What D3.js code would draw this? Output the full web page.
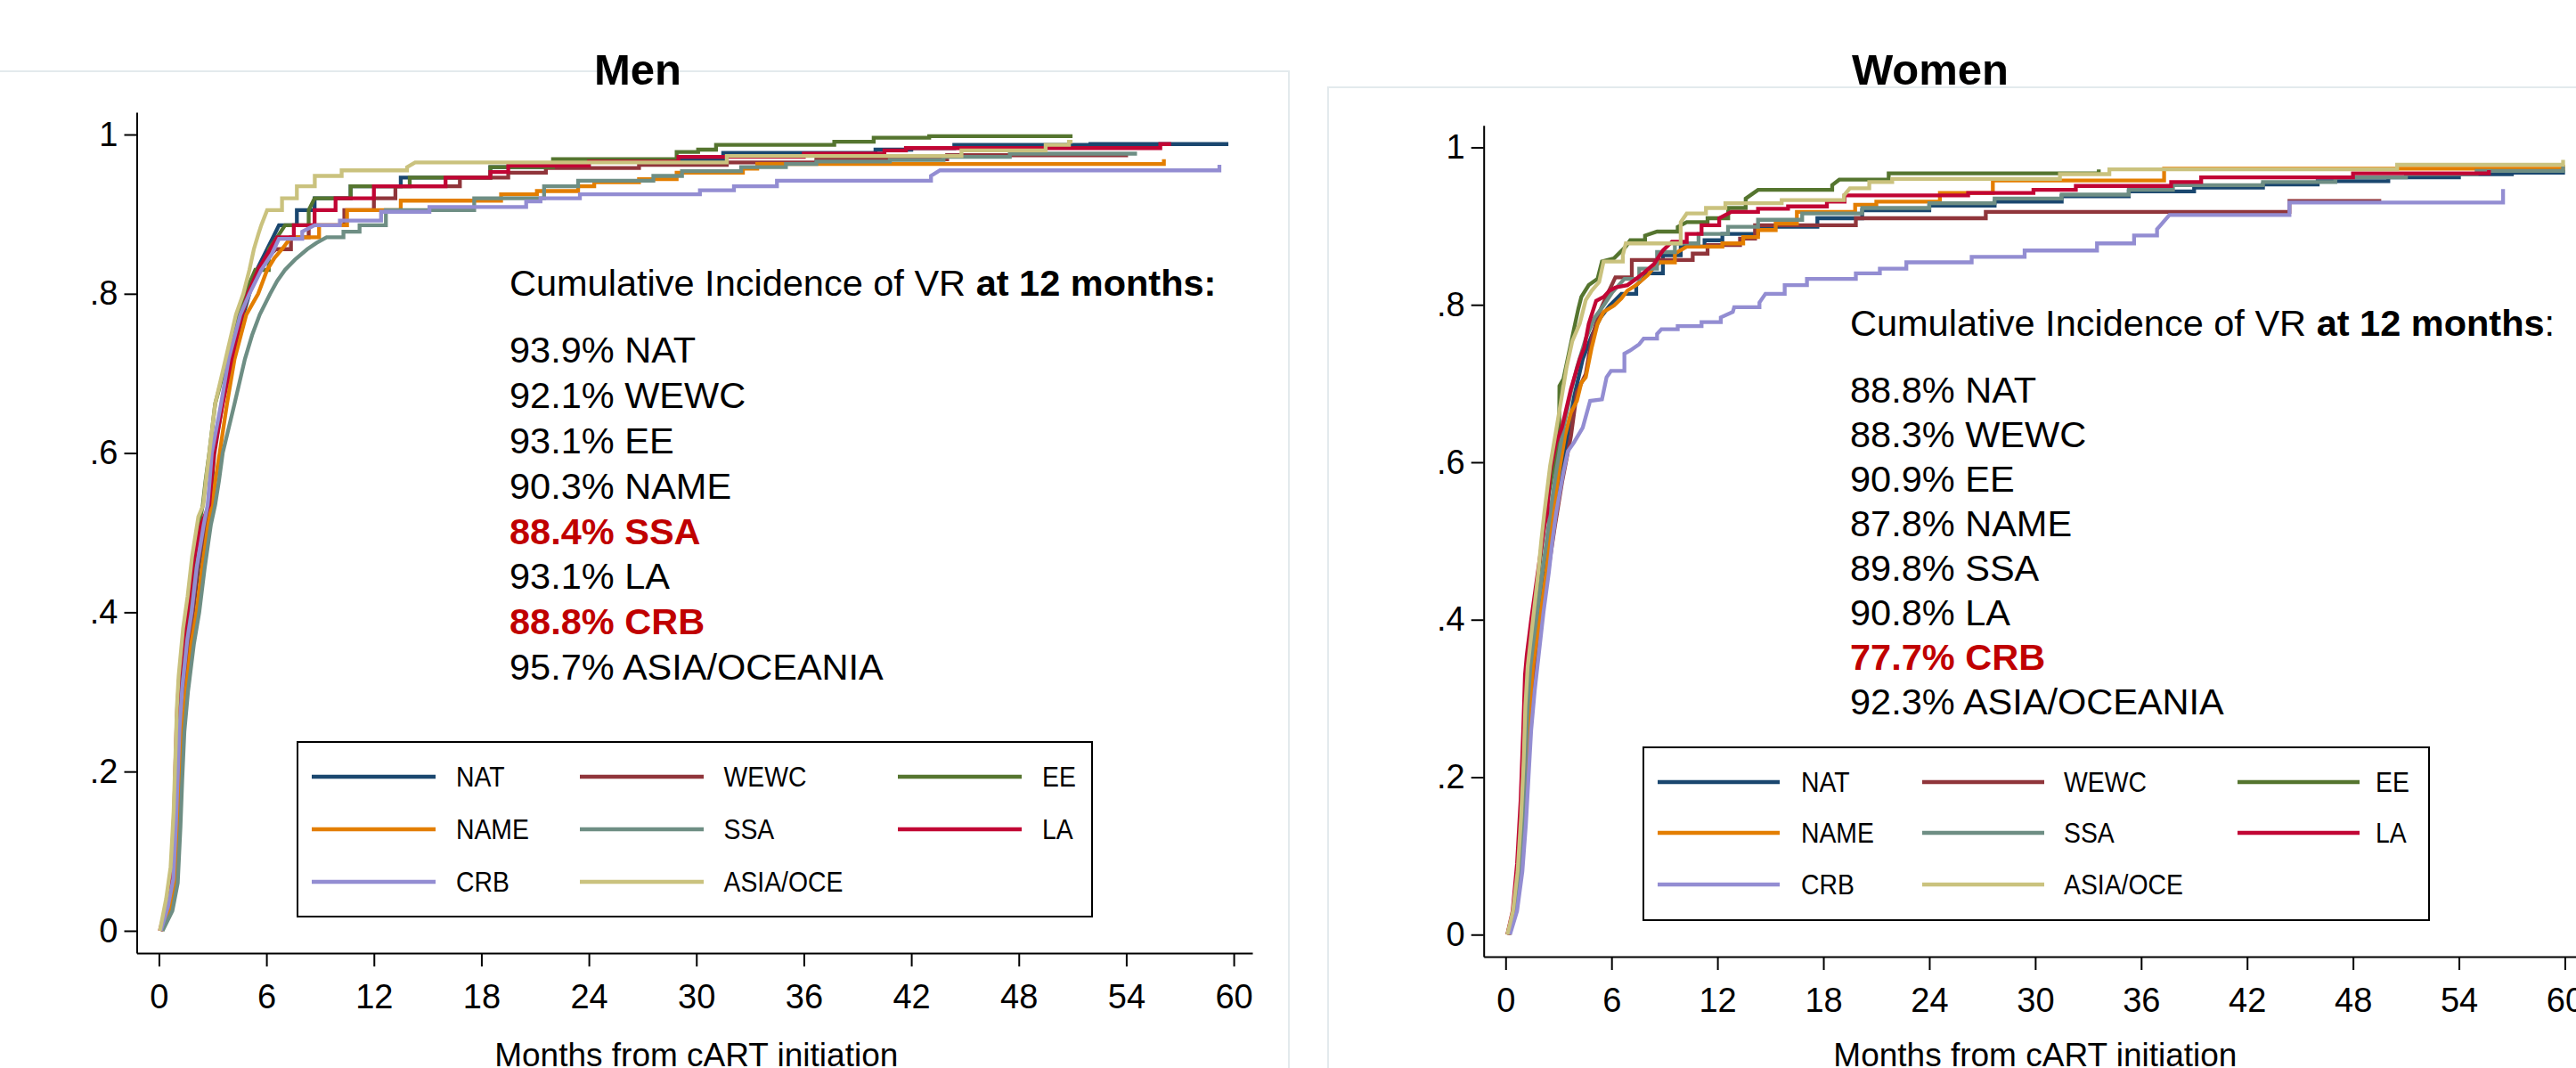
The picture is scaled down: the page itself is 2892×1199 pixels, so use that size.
<!DOCTYPE html>
<html>
<head>
<meta charset="utf-8">
<script src="https://cdn.jsdelivr.net/npm/d3@7"></script>
<style>
  body { margin: 0; background: #fff; }
  svg { display: block; font-family: "Liberation Sans", Arial, Helvetica, sans-serif; }
</style>
</head>
<body>
<svg id="chart" width="2892" height="1199"></svg>
<script>
// categories and ticks
const groups = ["NAT", "WEWC", "EE", "NAME", "SSA", "LA", "CRB", "ASIA/OCE"];
const monthTicks = [0, 6, 12, 18, 24, 30, 36, 42, 48, 54, 60];
const probTicks = [0, 0.2, 0.4, 0.6, 0.8, 1];

// annotation texts
const menNotes = ["93.9% NAT", "92.1% WEWC", "93.1% EE", "90.3% NAME", "88.4% SSA", "93.1% LA", "88.8% CRB", "95.7% ASIA/OCEANIA"];
const menHighlight = [4, 6];
const womenNotes = ["88.8% NAT", "88.3% WEWC", "90.9% EE", "87.8% NAME", "89.8% SSA", "90.8% LA", "77.7% CRB", "92.3% ASIA/OCEANIA"];
const womenHighlight = [6];

// cumulative incidence, [month, value] - men
const menNAT = [[0.1,0],[0.55,0.025],[0.85,0.06],[1.0,0.13],[1.1,0.19],[1.2,0.25],[1.35,0.3],[1.65,0.36],[1.9,0.4],[2.2,0.455],[2.6,0.51],[2.89,0.535],[2.97,0.565],[3.05,0.6],[3.5,0.662],[4.02,0.718],[4.71,0.774],[5.05,0.8],[5.46,0.83],[6.04,0.856],[6.37,0.871],[6.7,0.886],[7.7,0.905],[8.69,0.92],[10.7,0.935],[13.5,0.946],[18.5,0.959],[24,0.968],[31.5,0.977],[40,0.981],[42,0.983],[44.4,0.987],[52,0.988],[59.7,0.988]];
const menWEWC = [[0.1,0],[0.55,0.025],[0.85,0.06],[1.0,0.13],[1.1,0.19],[1.2,0.25],[1.35,0.3],[1.62,0.36],[1.88,0.4],[2.15,0.455],[2.55,0.51],[2.85,0.535],[2.95,0.565],[3.1,0.6],[3.55,0.662],[4.05,0.718],[4.65,0.774],[5.0,0.8],[5.46,0.83],[6.0,0.845],[6.54,0.856],[7.37,0.871],[8.36,0.886],[10.35,0.905],[12.0,0.92],[13.2,0.935],[16.8,0.946],[19.5,0.952],[21.6,0.958],[26.8,0.962],[31.7,0.965],[36.7,0.969],[44,0.974],[54.1,0.974]];
const menEE = [[0.08,0],[0.5,0.03],[0.75,0.07],[0.9,0.14],[1.0,0.2],[1.08,0.26],[1.22,0.31],[1.5,0.37],[1.72,0.405],[1.95,0.46],[2.3,0.517],[2.45,0.535],[2.6,0.565],[2.81,0.6],[3.14,0.662],[3.8,0.718],[4.39,0.774],[4.8,0.8],[5.38,0.83],[6.13,0.856],[6.6,0.871],[7.04,0.886],[8.36,0.905],[8.69,0.92],[10.7,0.935],[14,0.946],[18.5,0.959],[22,0.969],[28.9,0.978],[30.1,0.981],[31.1,0.987],[37.7,0.991],[39.9,0.996],[43,0.998],[51,0.998]];
const menNAME = [[0.15,0],[0.65,0.025],[0.95,0.06],[1.1,0.13],[1.2,0.19],[1.3,0.25],[1.5,0.3],[1.8,0.36],[2.1,0.4],[2.4,0.455],[2.75,0.51],[2.97,0.535],[3.15,0.565],[3.39,0.6],[3.8,0.662],[4.22,0.718],[4.88,0.774],[5.54,0.8],[6.04,0.83],[6.45,0.845],[6.87,0.856],[7.37,0.871],[8.94,0.886],[10.5,0.905],[13.5,0.917],[19.1,0.925],[21.1,0.929],[23.4,0.935],[24.3,0.94],[26.8,0.944],[28.9,0.952],[32.6,0.957],[33.4,0.963],[56.1,0.969]];
const menSSA = [[0.2,0],[0.75,0.025],[1.05,0.06],[1.2,0.13],[1.3,0.19],[1.42,0.25],[1.62,0.3],[1.95,0.36],[2.25,0.4],[2.55,0.455],[2.9,0.51],[3.14,0.535],[3.35,0.565],[3.56,0.6],[4.22,0.662],[4.8,0.718],[5.2,0.748],[5.63,0.774],[6.21,0.8],[6.6,0.816],[7.04,0.83],[7.6,0.843],[8.28,0.856],[8.8,0.864],[9.36,0.871],[10.3,0.878],[11.2,0.886],[12.67,0.905],[17.6,0.92],[21.5,0.935],[23.4,0.942],[27.6,0.948],[29.2,0.954],[32.5,0.959],[35,0.963],[36.7,0.966],[40.8,0.968],[43.8,0.972],[47.5,0.976],[54.6,0.976]];
const menLA = [[0.05,0],[0.45,0.035],[0.7,0.08],[0.85,0.15],[0.92,0.21],[1.0,0.27],[1.12,0.315],[1.4,0.37],[1.65,0.41],[1.9,0.46],[2.35,0.51],[2.81,0.535],[2.92,0.565],[3.06,0.6],[3.56,0.662],[4.05,0.718],[4.63,0.774],[4.96,0.8],[5.54,0.83],[6.21,0.856],[6.6,0.871],[7.53,0.886],[8.69,0.905],[9.86,0.92],[12,0.935],[16,0.946],[18.5,0.953],[19.5,0.961],[24,0.966],[29,0.972],[36,0.976],[40.5,0.98],[41.7,0.983],[55.9,0.988],[56.5,0.988]];
const menCRB = [[0.1,0],[0.5,0.03],[0.8,0.065],[0.95,0.135],[1.05,0.195],[1.15,0.255],[1.3,0.305],[1.58,0.365],[1.82,0.4],[2.1,0.455],[2.5,0.51],[2.72,0.535],[2.83,0.565],[2.95,0.6],[3.47,0.662],[3.89,0.718],[4.55,0.774],[5.05,0.8],[5.71,0.83],[6.3,0.85],[6.7,0.869],[8.0,0.878],[8.69,0.886],[10.1,0.892],[12.4,0.903],[15.1,0.909],[20.5,0.916],[21.3,0.92],[23.5,0.925],[30.2,0.93],[32.1,0.935],[34.5,0.942],[43.1,0.948],[43.6,0.955],[59.2,0.962]];
const menASIA = [[0.05,0],[0.4,0.04],[0.65,0.08],[0.82,0.15],[0.92,0.22],[1.0,0.28],[1.1,0.32],[1.35,0.38],[1.6,0.42],[1.85,0.47],[2.2,0.52],[2.48,0.535],[2.62,0.565],[2.81,0.6],[3.14,0.662],[3.72,0.718],[4.3,0.774],[4.71,0.8],[5.05,0.83],[5.3,0.856],[5.55,0.875],[5.71,0.886],[6.04,0.905],[6.87,0.92],[7.7,0.935],[8.7,0.948],[10.2,0.955],[13.85,0.959],[14.3,0.965],[31.7,0.973],[44.8,0.98],[49.5,0.987],[50.8,0.991],[51.0,0.991]];

// women
const womenNAT = [[0.15,0],[0.5,0.03],[0.8,0.08],[1.0,0.15],[1.12,0.22],[1.25,0.29],[1.4,0.34],[1.65,0.38],[1.9,0.42],[2.15,0.46],[2.45,0.5],[2.86,0.55],[3.15,0.59],[3.45,0.625],[3.87,0.682],[4.37,0.731],[4.88,0.761],[5.38,0.784],[5.89,0.799],[6.56,0.814],[7.4,0.825],[8.07,0.84],[8.91,0.863],[9.92,0.874],[11.27,0.882],[12.28,0.89],[14.3,0.899],[17.66,0.91],[20.2,0.92],[24,0.926],[27.7,0.931],[31.5,0.938],[35.3,0.944],[39,0.949],[42.9,0.953],[46,0.957],[50,0.962],[54,0.966],[57,0.968],[59.9,0.971]];
const womenWEWC = [[0.2,0],[0.6,0.03],[0.9,0.08],[1.1,0.14],[1.25,0.21],[1.4,0.27],[1.6,0.32],[1.85,0.37],[2.1,0.41],[2.4,0.46],[2.8,0.52],[3.2,0.575],[3.7,0.633],[4.04,0.689],[4.54,0.712],[4.88,0.757],[5.3,0.79],[5.8,0.815],[6.22,0.835],[7.15,0.857],[10.6,0.865],[11.44,0.876],[13.28,0.884],[14.13,0.901],[19.84,0.91],[27.2,0.918],[44.4,0.932],[49.6,0.932]];
const womenEE = [[0.1,0],[0.45,0.03],[0.7,0.08],[0.9,0.15],[1.05,0.22],[1.15,0.29],[1.28,0.34],[1.48,0.38],[1.68,0.42],[1.88,0.46],[2.08,0.5],[2.27,0.535],[2.6,0.58],[3.03,0.625],[3.05,0.697],[3.28,0.706],[3.87,0.769],[4.12,0.795],[4.29,0.81],[4.71,0.825],[5.21,0.833],[5.46,0.855],[6.14,0.859],[6.81,0.874],[7.06,0.882],[7.9,0.888],[8.58,0.893],[9.75,0.899],[10.26,0.905],[11.44,0.91],[12.61,0.923],[13.6,0.935],[14.3,0.946],[18.5,0.952],[18.9,0.959],[21.7,0.967],[33.6,0.972]];
const womenNAME = [[0.2,0],[0.6,0.03],[0.9,0.08],[1.1,0.15],[1.25,0.22],[1.38,0.29],[1.55,0.34],[1.8,0.38],[2.05,0.42],[2.3,0.46],[2.5,0.5],[2.69,0.535],[3.03,0.588],[3.36,0.633],[3.7,0.663],[4.04,0.678],[4.29,0.701],[4.54,0.708],[4.88,0.746],[5.21,0.776],[5.55,0.791],[6.14,0.799],[6.56,0.808],[6.9,0.818],[7.4,0.825],[8.07,0.838],[8.41,0.848],[8.74,0.854],[9.59,0.865],[10.26,0.874],[12.28,0.878],[13.46,0.886],[14.3,0.895],[15.3,0.903],[16.5,0.918],[19.8,0.927],[21,0.931],[24.6,0.942],[27.6,0.958],[37.3,0.973],[59.9,0.978]];
const womenSSA = [[0.15,0],[0.5,0.03],[0.8,0.08],[1.0,0.15],[1.12,0.22],[1.25,0.29],[1.4,0.34],[1.62,0.38],[1.85,0.42],[2.08,0.46],[2.32,0.5],[2.52,0.535],[2.86,0.588],[3.28,0.644],[3.7,0.689],[4.04,0.72],[4.54,0.757],[5.05,0.784],[5.55,0.799],[6.05,0.816],[6.73,0.833],[7.57,0.846],[8.58,0.867],[9.59,0.878],[10.93,0.89],[12.6,0.899],[14.3,0.908],[16.8,0.916],[20.2,0.923],[24,0.929],[27.7,0.935],[31.5,0.94],[35.3,0.946],[37.8,0.952],[42.9,0.956],[47,0.962],[51,0.966],[55,0.97],[59.9,0.976]];
const womenLA = [[0.1,0],[0.4,0.03],[0.65,0.09],[0.85,0.17],[1.0,0.26],[1.1,0.33],[1.2,0.355],[1.45,0.4],[1.7,0.44],[1.95,0.48],[2.2,0.52],[2.35,0.535],[2.52,0.588],[2.86,0.625],[3.19,0.644],[3.7,0.693],[4.2,0.731],[4.46,0.746],[4.71,0.776],[5.13,0.805],[5.55,0.81],[5.89,0.818],[6.22,0.822],[6.9,0.825],[7.4,0.833],[7.9,0.842],[8.41,0.852],[8.91,0.869],[9.42,0.88],[10.26,0.89],[11.1,0.901],[12.1,0.91],[12.78,0.918],[14.3,0.922],[16.0,0.925],[18.2,0.931],[19.2,0.939],[26.2,0.942],[29.9,0.946],[32.3,0.951],[37.7,0.956],[39.4,0.962],[48,0.967],[55.7,0.971]];
const womenCRB = [[0.25,0],[0.65,0.03],[0.95,0.08],[1.15,0.14],[1.3,0.2],[1.45,0.26],[1.65,0.31],[1.9,0.36],[2.15,0.41],[2.45,0.46],[2.65,0.5],[2.86,0.535],[3.28,0.588],[3.53,0.614],[3.87,0.625],[4.37,0.644],[4.79,0.678],[5.46,0.68],[5.72,0.708],[5.97,0.716],[6.73,0.738],[7.06,0.742],[7.57,0.75],[7.82,0.757],[8.58,0.763],[8.83,0.769],[9.75,0.773],[11.1,0.778],[12.19,0.784],[12.87,0.791],[12.95,0.797],[14.38,0.803],[14.72,0.814],[15.81,0.825],[17.07,0.833],[19.84,0.84],[21.2,0.846],[22.7,0.854],[26.4,0.861],[29.4,0.869],[33.5,0.878],[35.6,0.888],[36.9,0.896],[37.6,0.914],[44.4,0.93],[56.5,0.947]];
const womenASIA = [[0.1,0],[0.42,0.03],[0.68,0.08],[0.88,0.15],[1.02,0.22],[1.12,0.29],[1.25,0.34],[1.45,0.38],[1.65,0.42],[1.85,0.46],[2.02,0.5],[2.19,0.535],[2.52,0.595],[3.03,0.663],[3.45,0.72],[3.78,0.754],[4.2,0.776],[4.54,0.806],[4.88,0.818],[5.3,0.829],[5.55,0.855],[6.64,0.863],[6.81,0.878],[9.92,0.905],[10.26,0.916],[11.35,0.923],[12.45,0.929],[15.64,0.933],[19.17,0.939],[19.5,0.948],[20.6,0.956],[21.9,0.96],[31.4,0.966],[34.2,0.972],[50.5,0.978],[59.9,0.984]];

// styles (Stata s2color palette)
const colors = ["#1a476f", "#90353b", "#55752f", "#e37e00", "#6e8e84", "#c10534", "#938dd2", "#cac27e"];
const noteRed = "#c00000";
const faint = "#e3eaed";

// Kaplan-Meier style curve: wide gaps are drawn as a step, the dense run of
// small event steps in the steep part reads as a slope
function kmCurve(context) {
  let px, py, started;
  return {
    areaStart() {}, areaEnd() {},
    lineStart() { started = false; },
    lineEnd() {},
    point(x, y) {
      x = +x; y = +y;
      if (!started) { context.moveTo(x, y); started = true; }
      else if (x - px > 15) { context.lineTo(x, py); context.lineTo(x, y); }
      else context.lineTo(x, y);
      px = x; py = y;
    }
  };
}

const svg = d3.select("#chart");
svg.append("rect").attr("width", 2892).attr("height", 1199).attr("fill", "#fff");

// faint graph region borders
svg.append("path").attr("d", "M0,80H1447V1199").attr("fill", "none").attr("stroke", faint).attr("stroke-width", 2);
svg.append("path").attr("d", "M2892,98H1491V1199").attr("fill", "none").attr("stroke", faint).attr("stroke-width", 2);

const panels = [
  { title: "Men", titleX: 716, series: [menNAT, menWEWC, menEE, menNAME, menSSA, menLA, menCRB, menASIA],
    notes: menNotes, highlight: menHighlight, colonBold: true,
    x0: 153.5, x1: 1406, yTop: 126, yBot: 1070,
    noteX: 572, headY: 332, firstY: 407.3, noteStep: 50.8,
    legend: { x: 334, y: 833, w: 892, h: 196, lineX: [350, 651, 1008], labelX: [512, 812.5, 1170], rows: [872, 931, 990], len: 139 } },
  { title: "Women", titleX: 2167, series: [womenNAT, womenWEWC, womenEE, womenNAME, womenSSA, womenLA, womenCRB, womenASIA],
    notes: womenNotes, highlight: womenHighlight, colonBold: false,
    x0: 1665.7, x1: 2900.1, yTop: 140.7, yBot: 1074,
    noteX: 2077, headY: 377, firstY: 451.5, noteStep: 50.1,
    legend: { x: 1845, y: 839, w: 882, h: 194, lineX: [1861, 2158, 2512], labelX: [2022, 2317, 2667], rows: [878, 935, 993], len: 137 } }
];

const probFormat = d => d === 0 ? "0" : d === 1 ? "1" : d3.format(".1f")(d).replace(/^0/, "");

panels.forEach(p => {
  const x = d3.scaleLinear().domain([-1.24, 61.04]).range([p.x0, p.x1]);
  const y = d3.scaleLinear().domain([-0.028, 1.028]).range([p.yBot, p.yTop]);

  svg.append("text")
    .attr("x", p.titleX).attr("y", 95)
    .attr("text-anchor", "middle")
    .attr("font-size", 49).attr("font-weight", "bold")
    .text(p.title);

  // axes
  const yAxis = svg.append("g")
    .attr("transform", `translate(${p.x0},0)`)
    .call(d3.axisLeft(y).tickValues(probTicks).tickFormat(probFormat).tickSize(14).tickSizeOuter(0).tickPadding(7));
  const xAxis = svg.append("g")
    .attr("transform", `translate(0,${p.yBot})`)
    .call(d3.axisBottom(x).tickValues(monthTicks).tickSize(15).tickSizeOuter(0).tickPadding(20));
  [yAxis, xAxis].forEach(a => {
    a.attr("font-family", null).attr("font-size", 38);
    a.selectAll("path, line").attr("stroke", "#000").attr("stroke-width", 2);
    a.selectAll("text").attr("fill", "#000");
  });

  svg.append("text")
    .attr("x", x(30)).attr("y", 1197)
    .attr("text-anchor", "middle")
    .attr("font-size", 37)
    .text("Months from cART initiation");

  // curves
  const line = d3.line()
    .x(d => x(d[0]))
    .y(d => y(d[1]))
    .curve(kmCurve);

  svg.append("g").selectAll("path")
    .data(p.series)
    .enter().append("path")
    .attr("d", line)
    .attr("fill", "none")
    .attr("stroke", (d, i) => colors[i])
    .attr("stroke-width", 4.3);

  // annotation
  const head = svg.append("text")
    .attr("x", p.noteX).attr("y", p.headY)
    .attr("font-size", 41.5);
  head.append("tspan").text("Cumulative Incidence of VR ");
  head.append("tspan").attr("font-weight", "bold").text(p.colonBold ? "at 12 months:" : "at 12 months");
  if (!p.colonBold) head.append("tspan").text(":");

  svg.append("g").selectAll("text")
    .data(p.notes)
    .enter().append("text")
    .attr("x", p.noteX)
    .attr("y", (d, i) => p.firstY + i * p.noteStep)
    .attr("font-size", 41.5)
    .attr("font-weight", (d, i) => p.highlight.includes(i) ? "bold" : null)
    .attr("fill", (d, i) => p.highlight.includes(i) ? noteRed : "#000")
    .text(d => d);

  // legend
  const L = p.legend;
  svg.append("rect")
    .attr("x", L.x).attr("y", L.y).attr("width", L.w).attr("height", L.h)
    .attr("fill", "#fff").attr("stroke", "#000").attr("stroke-width", 2);
  const items = svg.append("g").selectAll("g")
    .data(groups)
    .enter().append("g");
  items.append("line")
    .attr("x1", (d, i) => L.lineX[i % 3])
    .attr("x2", (d, i) => L.lineX[i % 3] + L.len)
    .attr("y1", (d, i) => L.rows[Math.floor(i / 3)])
    .attr("y2", (d, i) => L.rows[Math.floor(i / 3)])
    .attr("stroke", (d, i) => colors[i])
    .attr("stroke-width", 4.3);
  // Stata's legend font is a little condensed
  items.append("text")
    .attr("transform", (d, i) => `translate(${L.labelX[i % 3]},${L.rows[Math.floor(i / 3)]}) scale(0.9,1)`)
    .attr("dy", "0.36em")
    .attr("font-size", 31.5)
    .text(d => d);
});
</script>
</body>
</html>
